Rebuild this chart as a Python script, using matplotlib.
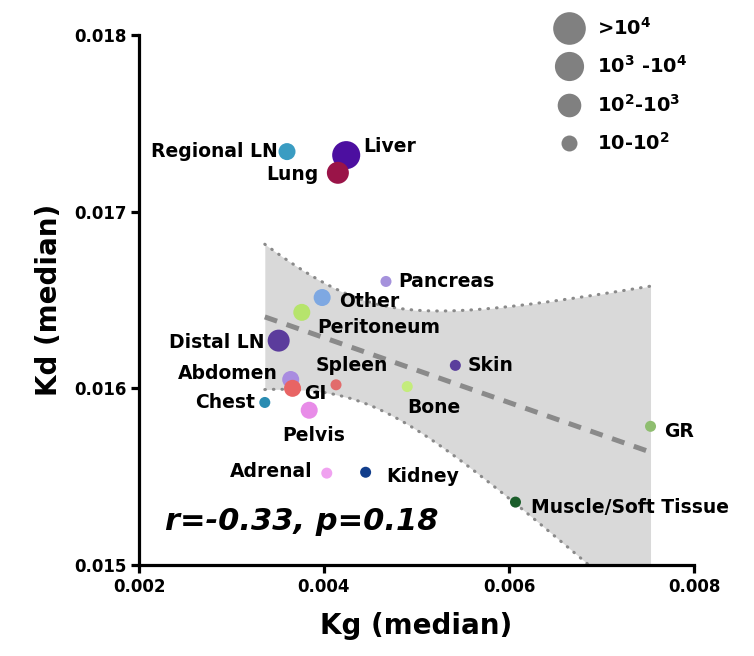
import numpy as np
import matplotlib
matplotlib.use("Agg")
import matplotlib.pyplot as plt
from matplotlib.lines import Line2D

plt.rcParams['font.family'] = ['DejaVu Sans']
plt.rcParams['font.weight'] = 'bold'
plt.rcParams['mathtext.fontset'] = 'dejavusans'
plt.rcParams['mathtext.default'] = 'bf'

# ---------------- data ----------------
organs = ['Regional LN', 'Liver', 'Lung', 'Pancreas', 'Other', 'Peritoneum',
          'Distal LN', 'Abdomen', 'GI', 'Spleen', 'Chest', 'Pelvis', 'Bone',
          'Skin', 'GR', 'Adrenal', 'Kidney', 'Muscle/Soft Tissue']
kg_median = [0.00360, 0.00424, 0.00415, 0.00467, 0.00398, 0.00376,
             0.00351, 0.00364, 0.00366, 0.00413, 0.00336, 0.00384, 0.00490,
             0.00542, 0.00753, 0.00403, 0.00445, 0.00607]
kd_median = [0.017340, 0.017320, 0.017220, 0.016605, 0.016514, 0.016430,
             0.016270, 0.016050, 0.016000, 0.016020, 0.015920, 0.015876, 0.016010,
             0.016130, 0.015785, 0.015520, 0.015525, 0.015356]
# count class: 0 '>10^4', 1 '10^3-10^4', 2 '10^2-10^3', 3 '10-10^2'
count_class = [2, 0, 1, 3, 2, 2, 1, 2, 2, 3, 3, 2, 3, 3, 3, 3, 3, 3]
class_labels = ['>10$^{4}$', '10$^{3}$ -10$^{4}$', '10$^{2}$-10$^{3}$', '10-10$^{2}$']
stats_text = 'r=-0.33, p=0.18'
x_ticks = [0.002, 0.004, 0.006, 0.008]
y_ticks = [0.015, 0.016, 0.017, 0.018]

# ---------------- styles ----------------
colors = ['#3a9cc2', '#4c0fa0', '#9a1448', '#a592dc', '#7ea8e2', '#b6e46c',
          '#5b3c9c', '#a98ce0', '#e86464', '#e26c6c', '#2a8cb2', '#e88ce8',
          '#c4ec7c', '#5a3f9c', '#8fbe70', '#f0a2f0', '#123e8c', '#1b5e2b']
class_sizes = [408, 251, 150, 63]          # scatter area (pt^2)
legend_ms = [23.5, 21.0, 17.0, 11.5]       # legend marker diameter (pt)
# label offsets in points, and alignment
label_off = [(-7, 0, 'right'), (12, 6, 'left'), (-14, -1, 'right'), (9, 0, 'left'),
             (12, -3, 'left'), (11, -11, 'left'), (-10, -1, 'right'), (-9, 4, 'right'),
             (8, -4, 'left'), (-15, 14, 'left'), (-7, 0, 'right'), (3, -18, 'center'),
             (0, -15, 'left'), (9, 0, 'left'), (10, -4, 'left'), (-10, 1, 'right'),
             (15, -3, 'left'), (11, -4, 'left')]

fig = plt.figure(figsize=(7.54, 6.56), dpi=100)
ax = fig.add_axes([139/754, 1-565/656, (694-139)/754, (565-35)/656])

x = np.array(kg_median)
y = np.array(kd_median)
n = len(x)

# linear regression with 95% confidence band
slope, intercept = np.polyfit(x, y, 1)
resid = y - (slope*x + intercept)
s_err = np.sqrt(np.sum(resid**2)/(n-2))
t_crit = 2.1199  # t(0.975, df=16)
xg = np.linspace(x.min(), x.max(), 200)
yg = slope*xg + intercept
half = t_crit*s_err*np.sqrt(1/n + (xg-x.mean())**2/np.sum((x-x.mean())**2))
ax.fill_between(xg, yg-half, yg+half, color='#d9d9d9', lw=0, zorder=1)
for edge in (yg+half, yg-half):
    ax.plot(xg, edge, color='#8a8a8a', lw=2.2, ls=(0, (0.2, 2.6)),
            dash_capstyle='round', zorder=2)
ax.plot(xg, yg, color='#8a8a8a', lw=3.6, ls=(0, (2.6, 2.0)), zorder=3)

sizes = [class_sizes[c] for c in count_class]
ax.scatter(x, y, s=sizes, c=colors, edgecolors='none', zorder=4)

for name, xi, yi, (dx, dy, ha) in zip(organs, x, y, label_off):
    ax.annotate(name, (xi, yi), xytext=(dx, dy), textcoords='offset points',
                ha=ha, va='center', fontsize=13.5, fontweight='bold', zorder=5)

ax.text(0.047, 0.083, stats_text, transform=ax.transAxes, fontsize=22,
        fontweight='bold', fontstyle='italic', ha='left', va='center')

ax.set_xlim(0.002, 0.008)
ax.set_ylim(0.015, 0.018)
ax.set_xticks(x_ticks)
ax.set_yticks(y_ticks)
ax.set_xticklabels([f'{v:.3f}' for v in x_ticks])
ax.set_yticklabels([f'{v:.3f}' for v in y_ticks])
for s in ['top', 'right']:
    ax.spines[s].set_visible(False)
for s in ['left', 'bottom']:
    ax.spines[s].set_linewidth(2.3)
ax.tick_params(width=2.3, length=6, labelsize=12, pad=3)
for lab in ax.get_xticklabels() + ax.get_yticklabels():
    lab.set_fontweight('bold')
ax.set_xlabel('Kg (median)', fontsize=20, fontweight='bold', labelpad=12)
ax.set_ylabel('Kd (median)', fontsize=20, fontweight='bold', labelpad=8)

handles = [Line2D([], [], ls='none', marker='o', ms=m, color='#808080',
                  markeredgewidth=0) for m in legend_ms]
leg = ax.legend(handles, class_labels, loc='upper left',
                bbox_to_anchor=(548/754, 1-7/656), bbox_transform=fig.transFigure,
                frameon=False, fontsize=14, labelspacing=0.85,
                handlelength=1.2, handletextpad=0.8, borderpad=0)

fig.savefig('out.png', dpi=100)
